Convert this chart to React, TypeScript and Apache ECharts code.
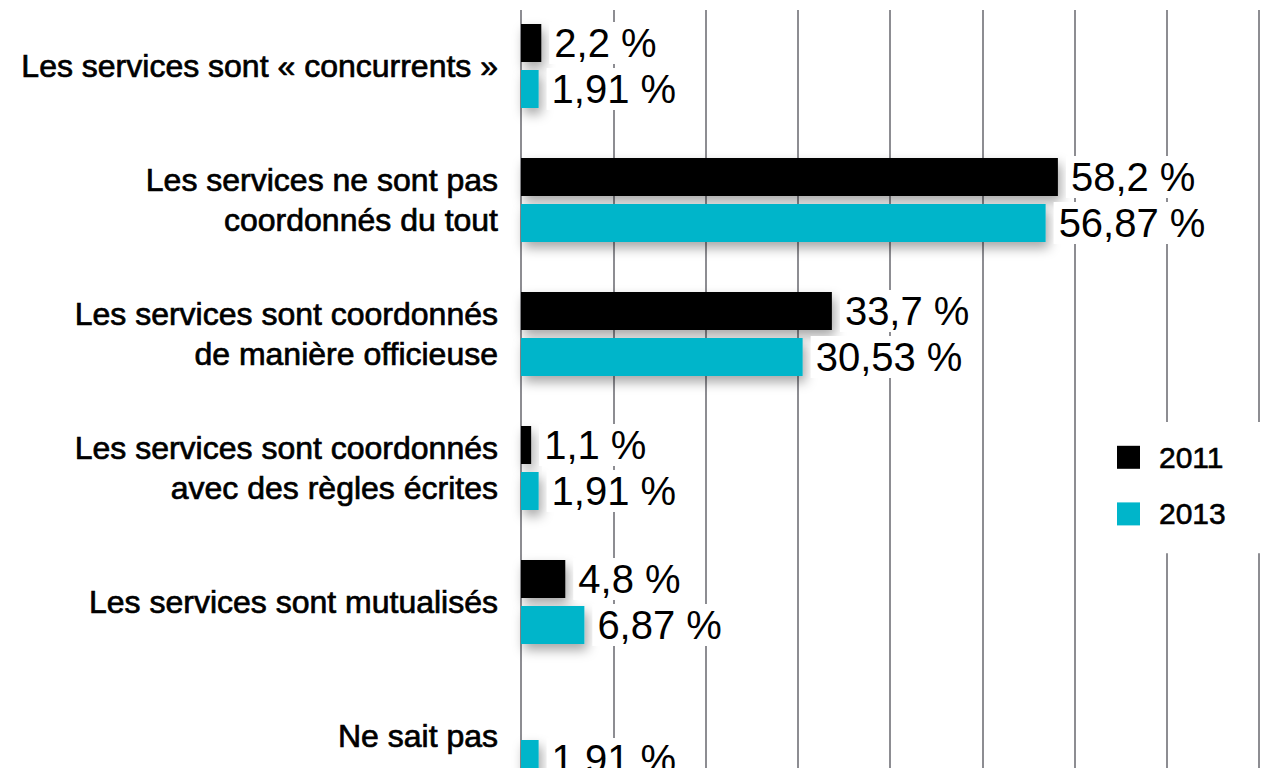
import React, { useEffect, useRef } from 'react';
import * as echarts from 'echarts';

const categories = [
  'Les services sont « concurrents »',
  'Les services ne sont pas\ncoordonnés du tout',
  'Les services sont coordonnés\nde manière officieuse',
  'Les services sont coordonnés\navec des règles écrites',
  'Les services sont mutualisés',
  'Ne sait pas',
];
const seriesNames = ['2011', '2013'];
const values2011: (number | null)[] = [2.2, 58.2, 33.7, 1.1, 4.8, null];
const values2013: (number | null)[] = [1.91, 56.87, 30.53, 1.91, 6.87, 1.91];
const axisMin = 0;
const axisMax = 80;
const axisInterval = 10;

const colors = ['#000000', '#00b5ca'];
const gridColor = '#8d8d92';
const FONT = '"Liberation Sans", Arimo, Helvetica, Arial, sans-serif';

const SHIFT = 20;
const CHART_H = 860;
const PLOT_H = 804;

export default function App() {
  const ref = useRef<HTMLDivElement>(null);
  useEffect(() => {
    if (!ref.current) return;
    const chart = echarts.init(ref.current, undefined, { renderer: 'svg' });
    const fmt = (p: any) => (p.value == null ? '' : String(p.value).replace('.', ',') + ' %');
    const mkSeries = (name: string, data: (number | null)[], color: string) => ({
      type: 'bar',
      name,
      data,
      barWidth: 38,
      barGap: '21%',
      itemStyle: {
        color,
        shadowBlur: 12,
        shadowColor: 'rgba(0,0,0,0.35)',
        shadowOffsetX: 3,
        shadowOffsetY: 6,
      },
      label: {
        show: true,
        position: 'right',
        distance: 8,
        formatter: fmt,
        fontFamily: FONT,
        fontSize: 40,
        color: '#000',
        backgroundColor: '#fff',
        padding: [1, 5, 1, 5],
      },
    });
    const top = SHIFT - 1;
    chart.setOption({
      animation: false,
      backgroundColor: '#fff',
      grid: { left: 521, right: 2, top, bottom: CHART_H - top - PLOT_H, containLabel: false },
      xAxis: {
        type: 'value',
        min: axisMin,
        max: axisMax,
        interval: axisInterval,
        axisLabel: { show: false },
        axisLine: { show: false },
        axisTick: { show: false },
        splitLine: { show: true, lineStyle: { color: gridColor, width: 2 } },
      },
      yAxis: {
        type: 'category',
        inverse: true,
        data: categories,
        axisLine: { show: true, lineStyle: { color: gridColor, width: 2 } },
        axisTick: { show: false },
        axisLabel: {
          margin: 23,
          fontFamily: FONT,
          fontSize: 32,
          lineHeight: 40,
          color: '#000',
          align: 'right',
          textBorderColor: '#000',
          textBorderWidth: 0.7,
        },
      },
      legend: {
        orient: 'vertical',
        left: 1097,
        top: 422 + SHIFT,
        data: seriesNames,
        itemWidth: 23,
        itemHeight: 23,
        itemGap: 26,
        backgroundColor: '#fff',
        padding: [20, 40, 24, 20],
        icon: 'rect',
        itemStyle: { shadowBlur: 0, shadowOffsetX: 0, shadowOffsetY: 0 },
        textStyle: {
          fontFamily: FONT,
          fontSize: 30,
          color: '#000',
          textBorderColor: '#000',
          textBorderWidth: 0.6,
          padding: [0, 0, 0, 14],
        },
      },
      graphic: [
        { type: 'rect', left: 0, top: 0, shape: { width: 1261, height: SHIFT + 10 }, style: { fill: '#fff' }, z: 100 },
      ],
      series: [
        mkSeries(seriesNames[0], values2011, colors[0]),
        mkSeries(seriesNames[1], values2013, colors[1]),
      ],
    });
    return () => chart.dispose();
  }, []);
  return (
    <div style={{ position: 'fixed', left: 0, top: 0, width: 1261, height: 768, overflow: 'hidden', background: '#fff' }}>
      <div
        ref={ref}
        style={{ position: 'absolute', left: 0, top: -SHIFT, width: 1261, height: CHART_H }}
      />
    </div>
  );
}
